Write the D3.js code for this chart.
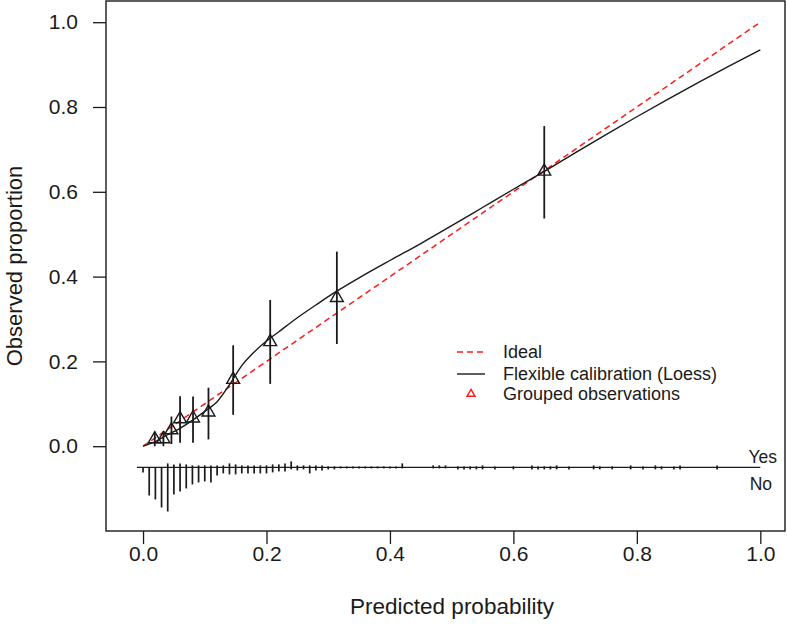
<!DOCTYPE html>
<html><head><meta charset="utf-8">
<script src="https://cdn.jsdelivr.net/npm/d3@7"></script>
<style>
html,body{margin:0;padding:0;background:#fff;}
svg{display:block;font-family:"Liberation Sans",Arial,sans-serif;}
</style></head><body>
<svg id="chart" width="787" height="628"></svg>
<script>
// ---- data ----
const xTicks = [0, 0.2, 0.4, 0.6, 0.8, 1.0];
const yTicks = [0, 0.2, 0.4, 0.6, 0.8, 1.0];
const tickLabels = ["0.0", "0.2", "0.4", "0.6", "0.8", "1.0"];
const idealX = [0, 1];
const idealY = [0, 1];
const loessX = [0, 0.02, 0.04, 0.06, 0.08, 0.10, 0.12, 0.14, 0.16, 0.18, 0.20, 0.22, 0.25, 0.28, 0.31, 0.35, 0.40, 0.45, 0.50, 0.55, 0.60, 0.65, 0.70, 0.75, 0.80, 0.85, 0.90, 0.95, 1.00];
const loessY = [0, 0.011, 0.027, 0.042, 0.061, 0.082, 0.105, 0.145, 0.19, 0.222, 0.248, 0.27, 0.303, 0.333, 0.362, 0.397, 0.438, 0.478, 0.520, 0.563, 0.606, 0.648, 0.692, 0.735, 0.777, 0.818, 0.858, 0.897, 0.935];
const groupX = [0.019, 0.033, 0.046, 0.060, 0.081, 0.106, 0.146, 0.206, 0.314, 0.650];
const groupY = [0.017, 0.017, 0.038, 0.064, 0.066, 0.080, 0.157, 0.246, 0.350, 0.648];
const groupLo = [0.0, 0.0, 0.005, 0.008, 0.008, 0.016, 0.074, 0.147, 0.241, 0.537];
const groupHi = [0.034, 0.036, 0.070, 0.118, 0.117, 0.138, 0.238, 0.345, 0.459, 0.755];
const spikeP = [0.00,0.01,0.02,0.03,0.04,0.05,0.06,0.07,0.08,0.09,0.10,0.11,0.12,0.13,0.14,0.15,0.16,0.17,0.18,0.19,0.20,0.21,0.22,0.23,0.24,0.25,0.26,0.27,0.28,0.29,0.30,0.31,0.32,0.33,0.34,0.35,0.36,0.37,0.38,0.39,0.40,0.41,0.42,0.47,0.48,0.49,0.51,0.52,0.53,0.54,0.55,0.57,0.60,0.63,0.64,0.65,0.66,0.67,0.69,0.73,0.74,0.76,0.79,0.81,0.83,0.84,0.86,0.87,0.93];
const noCount = [5,28,32,40,44,27,24,21,17,15,14,15,8,6,7,7,6,6,6,6,6,5,4,4,2,3,2,6,3,3,2,2,1,1,1,1,1,1,1,1,1,1,1,1,1,1,2,2,2,2,2,2,2,2,2,2,2,2,2,2,2,2,2,2,2,2,2,2,2];
const yesCount = [0,0,0,0,4,3,4,3,2,2,2,2,2,2,4,3,2,2,2,2,2,3,3,4,6,2,2,2,2,2,1,1,1,1,1,1,1,1,1,1,1,1,4,2,2,2,1,1,1,1,2,1,1,2,1,1,1,2,1,2,1,1,2,1,2,1,1,2,2];
const spikeBase = -0.05;
const spikeRange = [-0.01, 1.0];
const legendLabels = ["Ideal", "Flexible calibration (Loess)", "Grouped observations"];

// ---- chart ----
const svg = d3.select("#chart");
const x = d3.scaleLinear().domain([-0.06, 1.04]).range([106, 785]);
const y = d3.scaleLinear().domain([-0.2, 1.05]).range([531, 1]);
const spikeLen = d3.scaleLinear().domain([0, 44]).range([0, 0.104]);
const ink = "#1a1a1a";
const font = '"Liberation Sans",Arial,sans-serif';

// y axis
const yAxis = svg.append("g").attr("transform", `translate(${x.range()[0]},0)`)
  .call(d3.axisLeft(y).tickValues(yTicks).tickSize(13).tickPadding(15).tickFormat((d,i)=>tickLabels[i]));
yAxis.select(".domain").remove();
yAxis.selectAll("line").attr("stroke", ink).attr("stroke-width", 1.3);
yAxis.selectAll("text").attr("fill", ink).attr("font-size", 21).attr("font-family", font);

// x axis
const xAxis = svg.append("g").attr("transform", `translate(0,${y.range()[0]})`)
  .call(d3.axisBottom(x).tickValues(xTicks).tickSize(13).tickFormat((d,i)=>tickLabels[i]));
xAxis.select(".domain").remove();
xAxis.selectAll("line").attr("stroke", ink).attr("stroke-width", 1.3);
xAxis.selectAll("text").attr("fill", ink).attr("font-size", 21).attr("font-family", font)
  .attr("y", 30).attr("dy", 0);

// box
svg.append("rect").attr("x", x.range()[0]).attr("y", y.range()[1])
  .attr("width", x.range()[1]-x.range()[0]).attr("height", y.range()[0]-y.range()[1])
  .attr("fill", "none").attr("stroke", ink).attr("stroke-width", 1.4);

// axis titles
svg.append("text").attr("x", 452).attr("y", 614)
  .attr("text-anchor", "middle").attr("font-size", 22.5).attr("fill", ink).text("Predicted probability");
svg.append("text").attr("transform", `translate(22,${(y.range()[0]+y.range()[1])/2}) rotate(-90)`)
  .attr("text-anchor", "middle").attr("font-size", 22).attr("fill", ink).text("Observed proportion");

// ideal line
const line = d3.line().x(d=>x(d[0])).y(d=>y(d[1]));
svg.append("path").datum(d3.zip(idealX, idealY)).attr("d", line)
  .attr("fill", "none").attr("stroke", "#ff1a1a").attr("stroke-width", 1.5).attr("stroke-dasharray", "6,4");

// loess curve
svg.append("path").datum(d3.zip(loessX, loessY)).attr("d", line.curve(d3.curveCatmullRom))
  .attr("fill", "none").attr("stroke", ink).attr("stroke-width", 1.4);

// error bars
svg.append("g").selectAll("line").data(d3.range(groupX.length)).join("line")
  .attr("x1", i=>x(groupX[i])).attr("x2", i=>x(groupX[i]))
  .attr("y1", i=>y(groupLo[i])).attr("y2", i=>y(groupHi[i]))
  .attr("stroke", ink).attr("stroke-width", 1.8);

// triangles
svg.append("g").selectAll("path").data(d3.range(groupX.length)).join("path")
  .attr("transform", i=>`translate(${x(groupX[i])},${y(groupY[i])})`)
  .attr("d", d3.symbol().type(d3.symbolTriangle).size(72))
  .attr("fill", "none").attr("stroke", ink).attr("stroke-width", 1.4);

// spike histogram
svg.append("line").attr("x1", x(spikeRange[0])).attr("x2", x(spikeRange[1]))
  .attr("y1", y(spikeBase)).attr("y2", y(spikeBase)).attr("stroke", ink).attr("stroke-width", 1.4);
svg.append("g").selectAll("line").data(d3.range(spikeP.length)).join("line")
  .attr("x1", i=>x(spikeP[i])).attr("x2", i=>x(spikeP[i]))
  .attr("y1", i=>y(spikeBase + spikeLen(yesCount[i])))
  .attr("y2", i=>y(spikeBase - spikeLen(noCount[i])))
  .attr("stroke", ink).attr("stroke-width", 1.7);
svg.append("text").attr("x", 777).attr("y", y(spikeBase)-4).attr("text-anchor", "end")
  .attr("font-size", 17.5).attr("fill", ink).text("Yes");
svg.append("text").attr("x", 772).attr("y", y(spikeBase)+23).attr("text-anchor", "end")
  .attr("font-size", 17.5).attr("fill", ink).text("No");

// legend
const lg = svg.append("g");
const rowY = [352, 374, 394];
lg.append("line").attr("x1", 457).attr("x2", 485).attr("y1", rowY[0]).attr("y2", rowY[0])
  .attr("stroke", "#ff1a1a").attr("stroke-width", 1.5).attr("stroke-dasharray", "6,4");
lg.append("line").attr("x1", 457).attr("x2", 485).attr("y1", rowY[1]).attr("y2", rowY[1])
  .attr("stroke", ink).attr("stroke-width", 1.4);
lg.append("path").attr("transform", `translate(471,${rowY[2]})`)
  .attr("d", d3.symbol().type(d3.symbolTriangle).size(28))
  .attr("fill", "none").attr("stroke", "#ff1a1a").attr("stroke-width", 1.4);
lg.selectAll("text").data(legendLabels).join("text")
  .attr("x", 503).attr("y", (d,i)=>rowY[i]).attr("dy", "0.36em")
  .attr("font-size", 18).attr("fill", ink).text(d=>d);
</script>
</body></html>
